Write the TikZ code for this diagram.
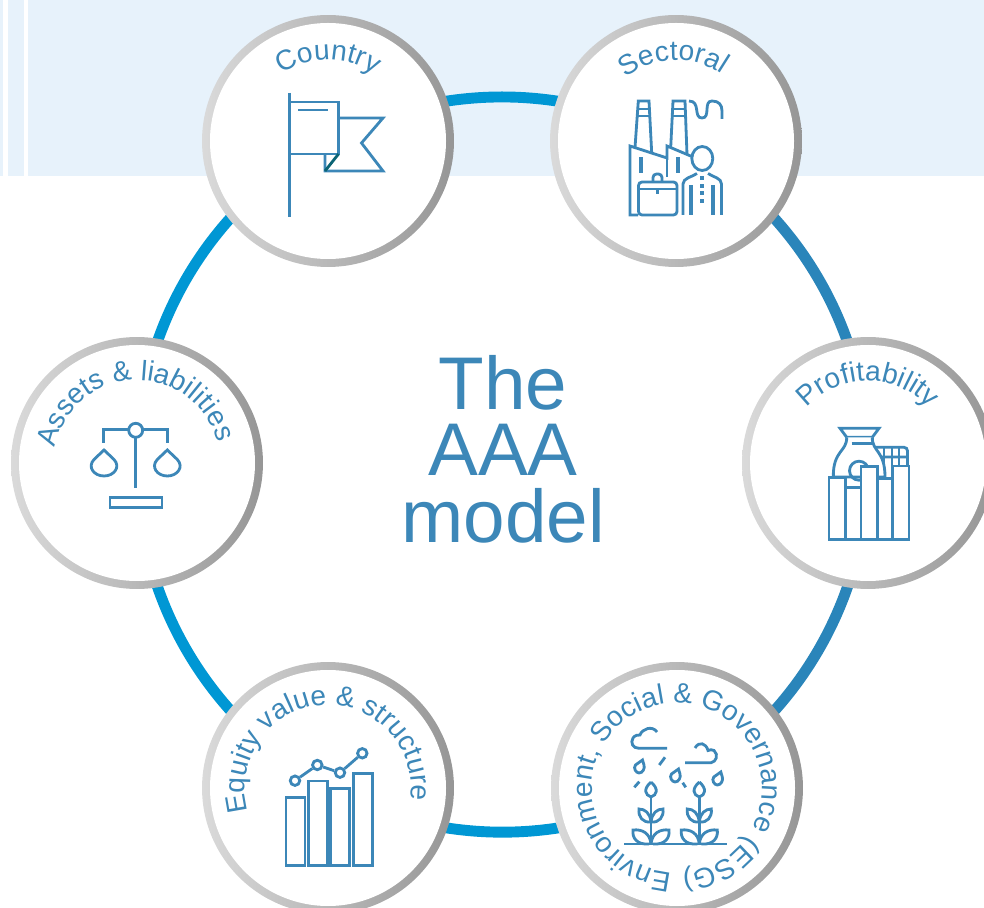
\documentclass[tikz,border=0pt]{standalone}
\usepackage{fontspec}
\usetikzlibrary{backgrounds,decorations.text}
\newfontfamily\labelfont{Liberation Sans}
\definecolor{bandblue}{HTML}{E7F2FB}
\definecolor{labelblue}{HTML}{3C87B8}
\definecolor{arcleft}{HTML}{0097D4}
\definecolor{arcright}{HTML}{2A85BA}
\definecolor{ringlight}{HTML}{DADADA}
\definecolor{ringdark}{HTML}{969696}
\definecolor{folddark}{HTML}{0B6475}

\begin{document}
\begin{tikzpicture}[x=0.02cm,y=-0.02cm,
    ringnode/.style={circle,minimum size=5.04cm,inner sep=0pt,left color=ringlight,right color=ringdark,
      path picture={\fill[white] (path picture bounding box.center) circle (118);}},
    ringtext/.style={decorate,decoration={text along path,text align=center,
      text={|\labelfont\fontsize{16}{20}\selectfont\color{labelblue}|#1}}},
    icon/.style={draw=labelblue,line width=1.6pt},
    arcline/.style={line width=6.2pt},
    toparc/.style={arcline,bend left=28.4,looseness=0.91},
    sidearc/.style={arcline,bend left=30.8,looseness=0.92},
    dot/.style={circle,icon,fill=white,minimum size=0.19cm,inner sep=0pt}]
  \useasboundingbox (0,0) rectangle (984,908);

  % the six circles
  \node[ringnode] (country) at (328,141) {};
  \node[ringnode] (sectoral) at (676,141) {};
  \node[ringnode] (profit) at (868,463) {};
  \node[ringnode] (esg) at (677,788) {};
  \node[ringnode] (equity) at (328,788) {};
  \node[ringnode] (assets) at (137,463) {};

  % band at the top and the big ring, behind the circles
  \begin{scope}[on background layer]
    \fill[bandblue] (0,0) rectangle (3,176);
    \fill[bandblue] (8,0) rectangle (24,176);
    \fill[bandblue] (28,0) rectangle (984,176);
    \draw[toparc,arcleft] (country.center) to (sectoral.center);
    \draw[sidearc,arcright] (sectoral.center) to (profit.center);
    \draw[sidearc,arcright] (profit.center) to (esg.center);
    \draw[toparc,arcleft] (esg.center) to (equity.center);
    \draw[sidearc,arcleft] (equity.center) to (assets.center);
    \draw[sidearc,arcleft] (assets.center) to (country.center);
  \end{scope}

  \node[align=center,text=labelblue,inner sep=0pt,font=\labelfont\fontsize{42.5}{37.8}\selectfont] (title) at (503,449) {The\\AAA\\model};

  % curved labels
  \path[ringtext={Country}] (country.center) ++(90:81) arc (90:450:81);
  \path[ringtext={Sectoral}] (sectoral.center) ++(88:81) arc (88:448:81);
  \path[ringtext={Profitability}] (profit.center) ++(90:82) arc (90:450:82);
  \path[ringtext={Environment, Social {\&} Governance (ESG)}] (esg.center) ++(90:85) arc (90:450:85);
  \path[ringtext={Equity value {\&} structure}] (equity.center) ++(86:83) arc (86:446:83);
  \path[ringtext={Assets {\&} liabilities}] (assets.center) ++(88:83) arc (88:448:83);

  % flag
  \draw[icon] (289.5,93) -- (289.5,217);
  \draw[icon] (289.5,102) -- (338.5,102) -- (338.5,154) -- (289.5,154);
  \draw[icon] (298,110) -- (328,110);
  \draw[icon] (338.5,118) -- (383,118) -- (361.5,143) -- (383,171) -- (325,171) -- (325,154);
  \draw[draw=folddark,line width=1.6pt] (325,171) -- (338.5,154);

  % factory and man
  \draw[icon] (635,147.5) -- (638.3,101) -- (649,101) -- (651.7,153);
  \draw[icon] (636.5,109) -- (650,109) (636,116) -- (650.5,116);
  \draw[icon] (670.7,147.6) -- (673,101) -- (685,101) -- (687,154.5);
  \draw[icon] (672.5,109) -- (685.5,109) (672,116) -- (686,116);
  \draw[icon] (689,101) .. controls (701,101) and (693,118) .. (702,118) .. controls (711,118) and (703,101) .. (712,101) .. controls (719,101) and (722,105) .. (722,111) -- (722,119);
  \draw[icon] (638,215) -- (630,215) -- (630,146) -- (667,158) -- (667,146) -- (693,157);
  \draw[icon] (667,146) -- (667,177);
  \fill[labelblue] (638.5,157) rectangle (642.5,173);
  \fill[labelblue] (676,157) rectangle (680,173);
  \draw[icon,rounded corners=2pt] (638.5,215) -- (638.5,182) -- (677,182) -- (677,215) -- cycle;
  \draw[icon] (638.5,189) -- (677,189) (657.5,189) -- (657.5,194);
  \draw[icon,rounded corners=2pt] (653,182) -- (653,174) -- (662,174) -- (662,182);
  \draw[icon] (702.3,158.5) ellipse (10.5 and 12);
  \draw[icon] (683,215) -- (683,184) .. controls (683,178) and (692,177) .. (697,173.5);
  \draw[icon] (721.5,215) -- (721.5,184) .. controls (721.5,178) and (713,177) .. (708,173.5);
  \fill[labelblue] (688.5,185) rectangle (692.5,215);
  \fill[labelblue] (711,185) rectangle (715,215);
  \foreach \y in {178,186,193,201} {
    \fill[labelblue] (700.3,\y-2) rectangle (704.3,\y+2);
  }

  % vase, coins and books
  \draw[icon,rounded corners=2pt] (875,447.3) -- (907.5,447.3) -- (907.5,466) (875,457) -- (907.5,457);
  \foreach \x in {884,892,899} {
    \draw[icon] (\x,448) -- (\x,457) (\x,458) -- (\x,466);
  }
  \draw[icon,fill=white] (840,428.3) -- (879,428.3) -- (872.3,437.3) -- (846.7,437.3) -- cycle;
  \draw[icon,fill=white] (846.7,437.3) .. controls (847,452) and (833,450) .. (833.3,477) -- (885,477) .. controls (885,450) and (872,452) .. (872.3,437.3);
  \draw[icon] (851.7,443.3) -- (872.3,443.3);
  \draw[icon] (859,470.7) circle (9.5);
  \foreach \a/\b/\y in {829/845.7/477.3,845.7/861/487.3,861/877.7/466.7,877.7/892.3/478.3,892.3/909/466} {
    \draw[icon,fill=white] (\a,\y) rectangle (\b,539.3);
  }

  % plants under the rain
  \draw[icon] (624.3,844) -- (727.3,844);
  \foreach \x in {651,699.3} {
    \begin{scope}[shift={(\x,844)}]
      \draw[icon] (0,0) -- (0,-47);
      \draw[icon] (0,-62) .. controls (-8,-55) and (-6,-49) .. (0,-47) .. controls (6,-49) and (8,-55) .. (0,-62);
      \foreach \s in {1,-1} {
        \draw[icon,xscale=\s] (-2,0) .. controls (-14,1) and (-19,-6) .. (-18,-14) .. controls (-9,-15) and (-1,-11) .. (0,0);
        \draw[icon,xscale=\s] (0,-22) .. controls (-8,-21) and (-13,-27) .. (-12,-35) .. controls (-6,-35) and (-1,-31) .. (0,-22);
      }
    \end{scope}
  }
  \draw[icon] (667,748.3) -- (639,748.3) .. controls (633,748.3) and (630,743) .. (633,738) .. controls (635,735) and (638,735) .. (640,735) .. controls (642,729) and (652,725) .. (657,732);
  \draw[icon] (685,762.7) -- (711,762.7) .. controls (716,762) and (719,755) .. (714,750.5) .. controls (712,749) and (710,750) .. (708,750.5) .. controls (706,743) and (699,741) .. (695,748);
  \foreach \x/\y in {639/767,675/776,717.3/779} {
    \draw[icon] (\x+3.5,\y-7) -- (\x-3.5,\y-2) .. controls (\x-6,\y+1) and (\x-3,\y+6) .. (\x,\y+6) .. controls (\x+4,\y+6) and (\x+6,\y+1) .. (\x+5,\y-2) -- cycle;
  }
  \draw[icon] (665,757.3) -- (659.3,765);
  \draw[icon] (639.3,781.7) -- (634.3,787.3);
  \draw[icon] (682.7,782.7) -- (685.7,787.3);

  % chart
  \foreach \x/\y in {286/797.7,308.3/781,330.7/788.3,353.3/773.3} {
    \draw[icon] (\x,\y) rectangle (\x+19,865.3);
  }
  \node[dot] (p1) at (295,780.7) {};
  \node[dot] (p2) at (317.3,765) {};
  \node[dot] (p3) at (340,772.7) {};
  \node[dot] (p4) at (362.3,753.3) {};
  \draw[icon] (p1) -- (p2);
  \draw[icon] (p2) -- (p3);
  \draw[icon] (p3) -- (p4);

  % scales
  \draw[icon] (103.3,442.7) -- (103.3,429.3) -- (167.7,429.3) -- (167.7,442.7);
  \draw[icon] (135.7,430) -- (135.7,488.3);
  \draw[icon,fill=white] (135.7,430.3) circle (7);
  \foreach \x in {104,167.3} {
    \draw[icon] (\x,450) -- (\x-10,459.5) .. controls (\x-17,467) and (\x-10,476) .. (\x,476) .. controls (\x+10,476) and (\x+17,467) .. (\x+10,459.5) -- cycle;
  }
  \draw[icon] (110,497.7) rectangle (162,507.7);
\end{tikzpicture}
\end{document}
